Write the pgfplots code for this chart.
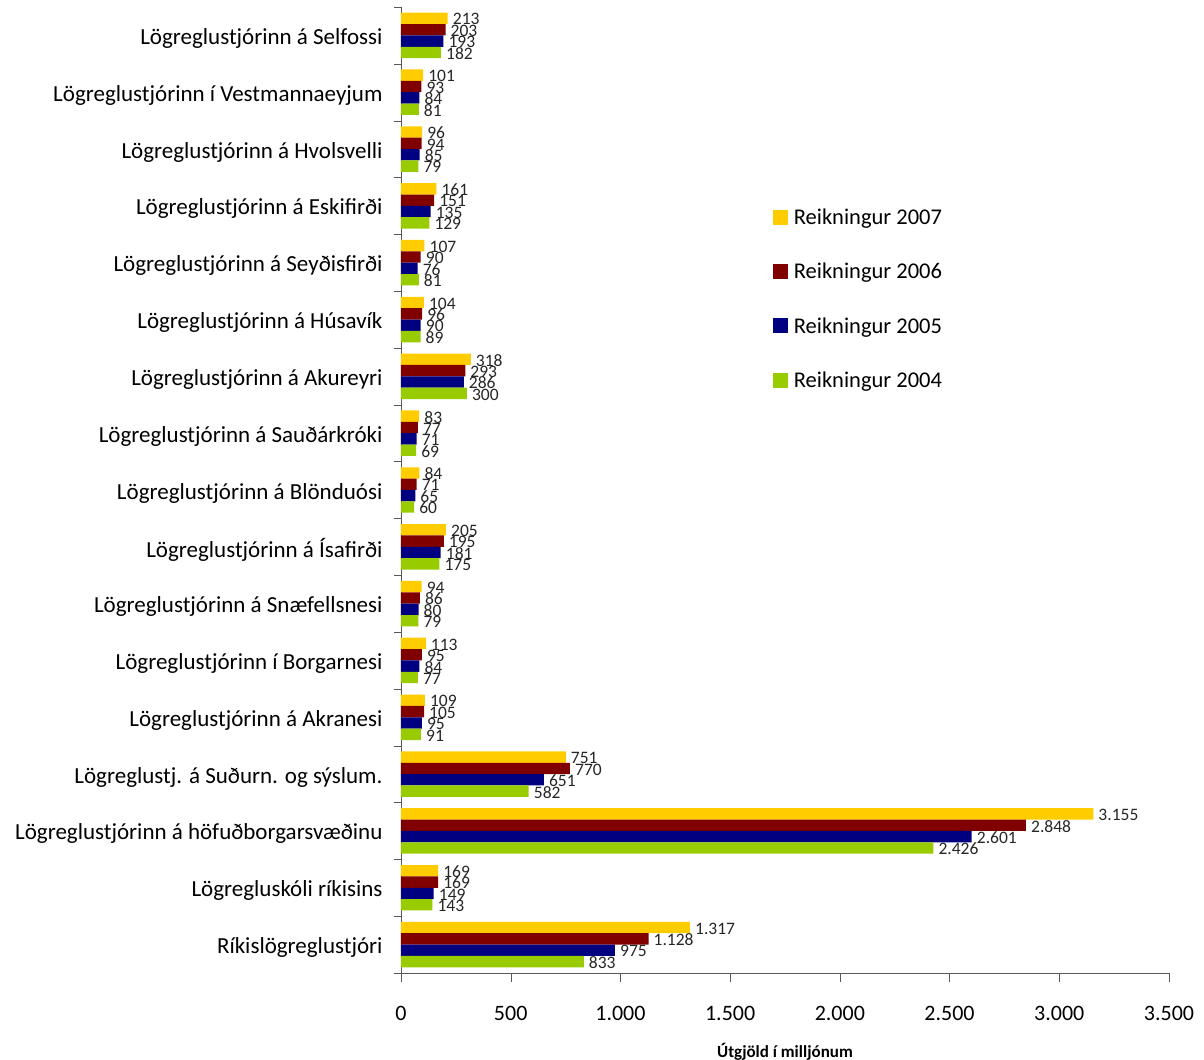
\documentclass[border=0pt]{standalone}
\usepackage{fontspec}
\setmainfont{Carlito}
\usepackage{pgfplots}
\usepackage{pgfplotstable}
\pgfplotsset{compat=1.18}
\definecolor{c07}{HTML}{FFCC00}
\definecolor{c06}{HTML}{800000}
\definecolor{c05}{HTML}{000080}
\definecolor{c04}{HTML}{99CC00}

% pos: 0 = bottom category (Rikislogreglustjori), 16 = top (Selfossi)
\pgfplotstableread{
pos y07  y06  y05  y04
0   1317 1128 975  833
1   169  169  149  143
2   3155 2848 2601 2426
3   751  770  651  582
4   109  105  95   91
5   113  95   84   77
6   94   86   80   79
7   205  195  181  175
8   84   71   65   60
9   83   77   71   69
10  318  293  286  300
11  104  96   90   89
12  107  90   76   81
13  161  151  135  129
14  96   94   85   79
15  101  93   84   81
16  213  203  193  182
}\data

\pgfplotsset{
  sq/.style={legend image code/.code={\fill[##1] (0bp,-7.5bp) rectangle (15bp,7.5bp);}},
}

\begin{document}
\begin{tikzpicture}
\useasboundingbox (-401bp,-87bp) rectangle (803bp,973bp);
\begin{axis}[
  at={(0,0)}, anchor=south west,
  scale only axis, width=768bp, height=966bp,
  xbar, bar width=0.2,
  xmin=0, xmax=3500, ymin=-0.5, ymax=16.5,
  axis x line*=bottom, axis y line*=left,
  axis line style={black!65},
  tick align=outside,
  major tick length=9bp, minor tick length=7bp,
  tick style={black!65},
  every major y tick/.style={draw=none},
  xtick={0,500,...,3500},
  scaled x ticks=false,
  /pgf/number format/1000 sep={.},
  /pgf/number format/assume math mode=true,
  xticklabel style={font=\fontsize{22bp}{26bp}\selectfont, yshift=-21bp},
  ytick={0,...,16},
  minor ytick={-0.5,0.5,...,16.5},
  yticklabels={Ríkislögreglustjóri, Lögregluskóli ríkisins, Lögreglustjórinn á höfuðborgarsvæðinu, Lögreglustj. á Suðurn. og sýslum., Lögreglustjórinn á Akranesi, Lögreglustjórinn í Borgarnesi, Lögreglustjórinn á Snæfellsnesi, Lögreglustjórinn á Ísafirði, Lögreglustjórinn á Blönduósi, Lögreglustjórinn á Sauðárkróki, Lögreglustjórinn á Akureyri, Lögreglustjórinn á Húsavík, Lögreglustjórinn á Seyðisfirði, Lögreglustjórinn á Eskifirði, Lögreglustjórinn á Hvolsvelli, Lögreglustjórinn í Vestmannaeyjum, Lögreglustjórinn á Selfossi},
  yticklabel style={font=\fontsize{23bp}{27bp}\selectfont, xshift=-6bp, yshift=-3bp},
  xlabel={Útgjöld í milljónum},
  xlabel style={font=\fontsize{17bp}{20bp}\selectfont\bfseries, at={(rel axis cs:0.5,0)}, anchor=center, yshift=-79bp},
  nodes near coords, point meta=x,
  nodes near coords style={font=\fontsize{17.5bp}{19bp}\selectfont, text=black!85, inner sep=2bp, anchor=west, xshift=3bp, yshift=-1bp},
  clip=false,
  legend style={at={(rel axis cs:0.48,0.795)}, anchor=north west, draw=none, fill=none,
    font=\fontsize{22.5bp}{27bp}\selectfont, row sep=33bp, column sep=4bp},
  legend cell align=left,
]
\addplot[fill=c07, draw=none, bar shift=0.3, sq] table[x=y07, y=pos] {\data};
\addlegendentry{Reikningur 2007}
\addplot[fill=c06, draw=none, bar shift=0.1, sq] table[x=y06, y=pos] {\data};
\addlegendentry{Reikningur 2006}
\addplot[fill=c05, draw=none, bar shift=-0.1, sq] table[x=y05, y=pos] {\data};
\addlegendentry{Reikningur 2005}
\addplot[fill=c04, draw=none, bar shift=-0.3, sq] table[x=y04, y=pos] {\data};
\addlegendentry{Reikningur 2004}
\end{axis}
\end{tikzpicture}
\end{document}
